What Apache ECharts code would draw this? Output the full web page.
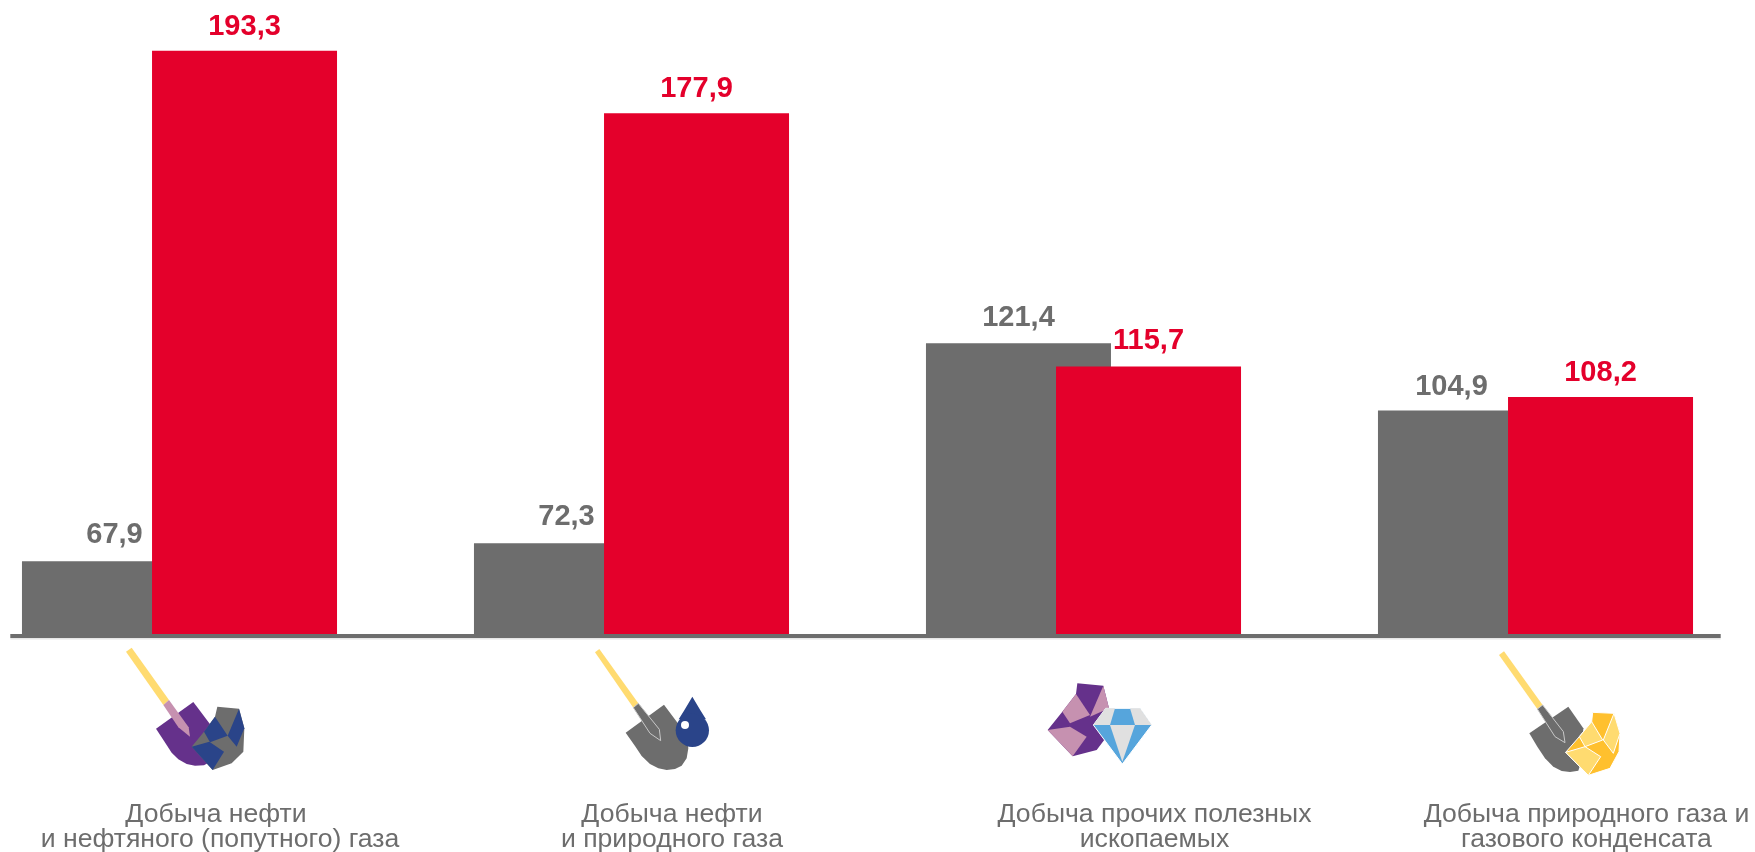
<!DOCTYPE html>
<html>
<head>
<meta charset="utf-8">
<style>
  html, body { margin: 0; padding: 0; background: #fff; }
  #chart { width: 1755px; height: 852px; }
</style>
</head>
<body>
<div id="chart"></div>
<script src="https://cdn.jsdelivr.net/npm/echarts@6/dist/echarts.min.js"></script>
<script>
const categories = [
  'Добыча нефти\nи нефтяного (попутного) газа',
  'Добыча нефти\nи природного газа',
  'Добыча прочих полезных\nископаемых',
  'Добыча природного газа и\nгазового конденсата'
]
const greyValues = [67.9, 72.3, 121.4, 104.9]
const redValues = [193.3, 177.9, 115.7, 108.2]

const GREY = '#6d6d6d'
const RED = '#e4002b'
const YELLOW = '#ffdb70'
const PURPLE = '#65318b'
const PINK = '#c691b0'
const BLUE = '#2a4489'
const GOLD = '#ffc02e'

// подписи сдвинуты вправо относительно центров групп, у каждой свой сдвиг
const labelShift = [81, 81, 142, 102]
// значения над столбцами в оригинале расставлены вручную
const greyLabelOffset = [[0, -2], [0, -2], [0, -1], [-19, 1]]
const redLabelOffset = [[0, 1], [0, 0], [0, -1], [0, 0]]

function poly(points, fill, stroke) {
  return {
    type: 'polygon',
    shape: { points: points },
    style: { fill: fill, stroke: stroke || null, lineWidth: stroke ? 3 : 0 }
  }
}

// иконки заданы в координатах кропа 3x
function icon(x, y, children) {
  return { type: 'group', x: x, y: y, scaleX: 1 / 3, scaleY: 1 / 3, children: children }
}

const icons = [
  icon(0, 620, [
    poly([[378, 95], [395, 83], [507, 240], [490, 255]], YELLOW),
    poly([[468, 326], [580, 246], [632, 315], [640, 420], [612, 436], [585, 437], [560, 432], [535, 418], [515, 398], [498, 372]], PURPLE),
    poly([[490, 255], [507, 240], [566, 322], [570, 350], [535, 322]], PINK),
    poly([[652, 260], [717, 266], [733, 325], [730, 395], [695, 430], [638, 450], [575, 380], [612, 335], [645, 290]], GREY),
    poly([[645, 290], [683, 347], [630, 367], [612, 335]], BLUE),
    poly([[717, 266], [733, 325], [710, 380], [683, 347]], BLUE),
    poly([[575, 380], [628, 365], [672, 395], [638, 450]], BLUE)
  ]),
  icon(460, 620, [
    poly([[405, 97], [418, 87], [535, 250], [520, 263]], YELLOW),
    poly([[497, 338], [612, 254], [680, 345], [685, 385], [680, 415], [665, 437], [645, 447], [620, 450], [595, 445], [570, 432], [545, 408], [525, 378]], GREY),
    poly([[520, 263], [535, 250], [598, 328], [602, 362], [570, 340]], GREY, '#c8c8c8'),
    poly([[697, 230], [722, 272], [738, 298], [656, 298], [672, 272]], BLUE),
    { type: 'circle', shape: { cx: 697, cy: 331, r: 50 }, style: { fill: BLUE } },
    { type: 'circle', shape: { cx: 675, cy: 315, r: 12 }, style: { fill: '#fff' } }
  ]),
  icon(960, 620, [
    poly([[352, 190], [430, 197], [447, 265], [440, 350], [410, 390], [338, 409], [263, 330], [307, 275], [348, 222]], PURPLE),
    poly([[348, 222], [390, 285], [330, 310], [307, 275]], PINK),
    poly([[430, 197], [447, 265], [390, 290]], PINK),
    poly([[263, 330], [330, 320], [380, 350], [338, 409]], PINK),
    poly([[400, 315], [437, 265], [540, 265], [575, 315], [487, 432]], '#56a5dc', '#fff'),
    poly([[437, 265], [465, 265], [450, 315], [400, 315]], '#e0e0e0'),
    poly([[510, 265], [540, 265], [575, 315], [525, 315]], '#e0e0e0'),
    poly([[450, 315], [525, 315], [487, 425]], '#e0e0e0')
  ]),
  icon(1400, 620, [
    poly([[297, 105], [312, 94], [428, 255], [412, 267]], YELLOW),
    poly([[388, 340], [505, 260], [550, 325], [545, 420], [535, 452], [510, 456], [485, 453], [460, 440], [435, 415], [412, 380]], GREY),
    poly([[412, 267], [428, 255], [490, 335], [495, 368], [465, 350]], GREY, '#c8c8c8'),
    poly([[578, 277], [642, 280], [660, 340], [657, 395], [630, 445], [565, 466], [497, 397], [538, 350], [575, 305]], GOLD, '#fff'),
    poly([[575, 305], [608, 360], [555, 380], [538, 350]], YELLOW, '#fff'),
    poly([[642, 280], [660, 340], [640, 400], [610, 360]], YELLOW, '#fff'),
    poly([[497, 397], [555, 380], [602, 410], [565, 466]], YELLOW, '#fff')
  ])
]

function comma(p) {
  return p.value.toFixed(1).replace('.', ',')
}

function barData(values, offsets) {
  return values.map((v, i) => ({ value: v, label: { offset: offsets[i] } }))
}

const richLabels = {}
labelShift.forEach((shift, i) => {
  richLabels['c' + i] = { padding: [0, 0, 0, shift] }
})
// первая строка первой подписи чуть левее второй
richLabels.first = { padding: [0, 0, 0, 73] }

const chart = echarts.init(document.getElementById('chart'))
chart.setOption({
  animation: false,
  backgroundColor: '#fff',
  textStyle: { fontFamily: '"Liberation Sans", Arial, sans-serif' },
  grid: { left: -46.5, top: 23.4, width: 1808, height: 610.6, outerBoundsMode: 'none' },
  xAxis: {
    type: 'category',
    data: categories,
    axisLine: { show: false },
    axisTick: { show: false },
    axisLabel: {
      interval: 0,
      margin: 168,
      color: GREY,
      fontSize: 26.6,
      lineHeight: 25,
      rich: richLabels,
      formatter(value, index) {
        const lines = value.split('\n')
        const firstStyle = index === 0 ? 'first' : 'c' + index
        return '{' + firstStyle + '|' + lines[0] + '}\n{c' + index + '|' + lines[1] + '}'
      }
    }
  },
  yAxis: {
    type: 'value',
    min: 50,
    max: 200,
    show: false
  },
  series: [
    {
      name: 'grey',
      type: 'bar',
      barWidth: 185,
      barGap: '-29.7%',
      data: barData(greyValues, greyLabelOffset),
      itemStyle: { color: GREY },
      label: {
        show: true,
        position: 'top',
        distance: 10,
        color: GREY,
        fontSize: 29,
        fontWeight: 'bold',
        formatter: comma
      }
    },
    {
      name: 'red',
      type: 'bar',
      barWidth: 185,
      data: barData(redValues, redLabelOffset),
      itemStyle: { color: RED },
      label: {
        show: true,
        position: 'top',
        distance: 10,
        color: RED,
        fontSize: 29,
        fontWeight: 'bold',
        formatter: comma
      }
    }
  ],
  graphic: [
    { type: 'rect', shape: { x: 10.3, y: 638, width: 1710.4, height: 1.5 }, style: { fill: '#e6e6e6' } },
    { type: 'rect', shape: { x: 10.3, y: 634, width: 1710.4, height: 4 }, style: { fill: GREY } }
  ].concat(icons)
})
</script>
</body>
</html>
